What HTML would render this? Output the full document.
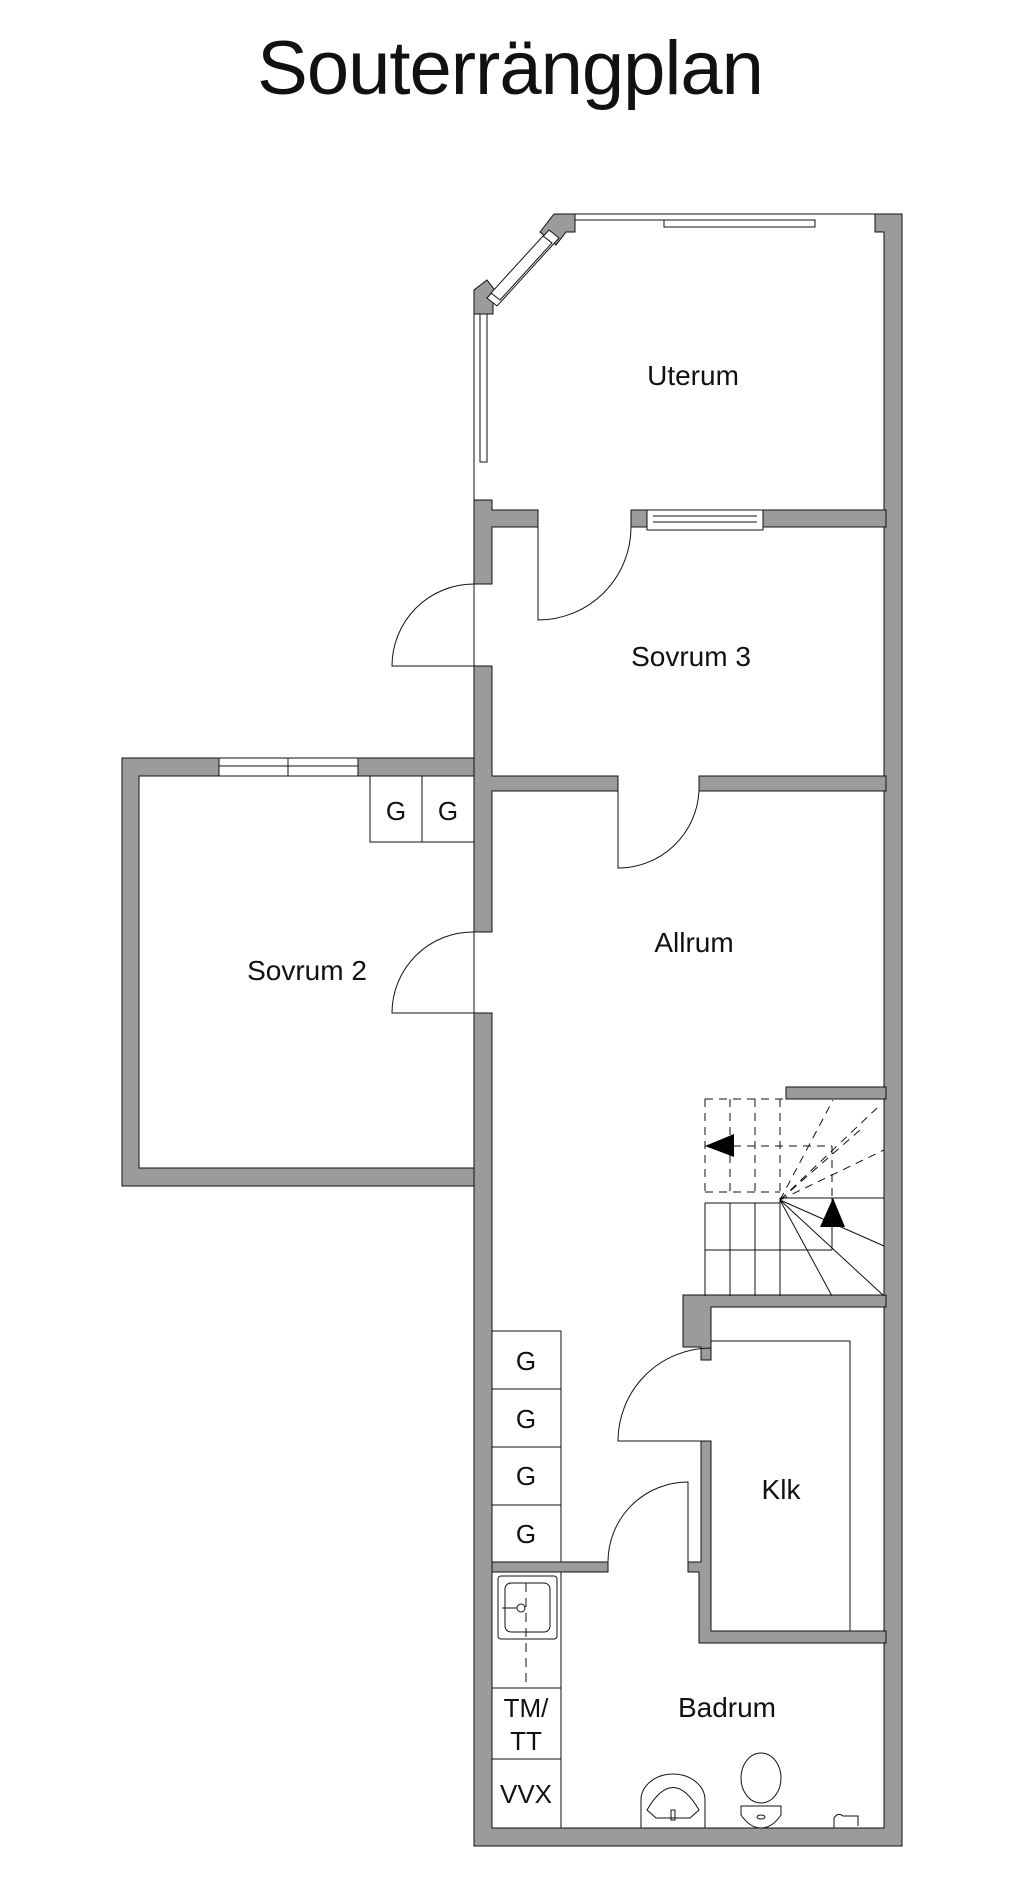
<!DOCTYPE html>
<html><head><meta charset="utf-8"><style>
html,body{margin:0;padding:0;background:#fff;}
svg{display:block}
text{font-family:"Liberation Sans",sans-serif;fill:#111}
</style></head><body>
<svg width="1024" height="1886" viewBox="0 0 1024 1886" xmlns="http://www.w3.org/2000/svg">
<text x="510" y="94" font-size="76" text-anchor="middle" letter-spacing="-1">Souterrängplan</text>

<g fill="#9b9b9b" stroke="#111" stroke-width="1">
<polygon points="875,214 902,214 902,1846 474,1846 474,1013 492,1013 492,1828 884,1828 884,232 875,232"/>
<polygon points="474,500 492,500 492,510 538,510 538,527 492,527 492,584 474,584"/>
<polygon points="474,666 492,666 492,776 618,776 618,791 492,791 492,932 474,932 474,776 474,776"/>
<polygon points="631,510 886,510 886,527 631,527"/>
<polygon points="699,776 886,776 886,791 699,791"/>
<polygon points="122,758 474,758 474,776 139,776 139,1168 474,1168 474,1186 122,1186"/>
<polygon points="554,214 575,214 575,232 566,232 556,245 540,232"/>
<polygon points="474,314 474,290 487,280 500,297 493,304 493,314"/>
<polygon points="786,1087 886,1087 886,1099 786,1099"/>
<polygon points="683,1295 886,1295 886,1307 711,1307 711,1360 701,1360 701,1347 683,1347"/>
<polygon points="701,1441 711,1441 711,1631 886,1631 886,1643 699,1643 699,1572 688,1572 688,1562 701,1562"/>
<polygon points="492,1562 608,1562 608,1572 492,1572"/>
</g>

<g fill="#fff" stroke="#111" stroke-width="1">
<rect x="219" y="758" width="139" height="18"/>
<line x1="219" y1="766" x2="358" y2="766"/><line x1="288" y1="758" x2="288" y2="776"/>
<rect x="647" y="510" width="116" height="20"/>
<line x1="653" y1="516" x2="757" y2="516"/><line x1="653" y1="522" x2="757" y2="522"/>
<rect x="664" y="220" width="151" height="7"/>
<polygon points="549,230 559,238 497,306 487,298"/>
<polygon points="543,236 552,243 500,300 491,293"/>
<rect x="480" y="314" width="7" height="148"/>
</g>
<g stroke="#111" stroke-width="1" fill="none">
<line x1="575" y1="214" x2="875" y2="214"/>
<line x1="575" y1="220" x2="724" y2="220"/>
<line x1="474" y1="314" x2="474" y2="500"/>
<line x1="474" y1="584" x2="474" y2="666"/>
<line x1="474" y1="932" x2="474" y2="1013"/>
<path d="M538 527 V620 A93 93 0 0 0 631 527"/>
<path d="M474 666 H392 A82 82 0 0 1 474 584"/>
<path d="M474 1013 H392 A81 81 0 0 1 474 932"/>
<path d="M618 791 V868 A81 81 0 0 0 699 791"/>
<path d="M711 1441 H618 A93 93 0 0 1 711 1348"/>
<path d="M688 1562 V1482 A80 80 0 0 0 608 1562"/>
<rect x="370" y="776" width="104" height="66"/>
<line x1="422" y1="776" x2="422" y2="842"/>
<rect x="492" y="1331" width="69" height="231"/>
<line x1="492" y1="1389" x2="561" y2="1389"/>
<line x1="492" y1="1447" x2="561" y2="1447"/>
<line x1="492" y1="1505" x2="561" y2="1505"/>
<rect x="492" y="1572" width="69" height="256"/>
<line x1="492" y1="1688" x2="561" y2="1688"/>
<line x1="492" y1="1759" x2="561" y2="1759"/>
<rect x="498" y="1576" width="59" height="63" rx="3"/>
<rect x="505" y="1583" width="45" height="49" rx="6"/>
<line x1="526" y1="1583" x2="526" y2="1688" stroke-dasharray="9,6"/>
<circle cx="521" cy="1608" r="4"/>
<line x1="502" y1="1608" x2="517" y2="1608"/>
<path d="M711 1341 H850 V1631"/>
<g stroke-dasharray="8,6">
<path d="M705 1099 H786 M705 1146 H832 M705 1192 H780 M705 1099 V1192 M730 1099 V1192 M755 1099 V1192 M780 1099 V1192 M832 1146 V1198"/>
<path d="M780 1200 L884 1150 M780 1200 L877 1108 M780 1200 L833 1100 M780 1200 L860 1130"/>
</g>
<path d="M705 1203 H780 M705 1250 H832 M705 1203 V1296 M730 1203 V1296 M755 1203 V1296 M780 1198 V1296 M780 1198 H884 M832 1198 V1250"/>
<path d="M780 1200 L884 1246 M780 1200 L884 1296 M780 1200 L832 1296"/>
<path d="M641 1828 V1800 A32 26 0 0 1 705 1800 V1828"/>
<path d="M647 1810 Q673 1765 699 1810 L690 1818 H656 Z"/>
<rect x="671" y="1810" width="4" height="10"/>
<ellipse cx="761" cy="1778" rx="20" ry="25"/>
<path d="M741 1806 H781 V1815 Q772 1828 761 1828 Q750 1828 741 1815 Z"/>
<ellipse cx="761" cy="1817" rx="4" ry="2"/>
<path d="M834 1828 V1818 Q838 1812 843 1816 H858 V1826"/>
</g>
<polygon points="705,1146 734,1134 734,1157" fill="#000"/>
<polygon points="833,1198 820,1227 845,1227" fill="#000"/>

<g font-size="28" text-anchor="middle">
<text x="693" y="385">Uterum</text>
<text x="691" y="666">Sovrum 3</text>
<text x="694" y="952">Allrum</text>
<text x="307" y="980">Sovrum 2</text>
<text x="781" y="1499">Klk</text>
<text x="727" y="1717">Badrum</text>
<text x="396" y="820" font-size="26">G</text>
<text x="448" y="820" font-size="26">G</text>
<text x="526" y="1370" font-size="26">G</text>
<text x="526" y="1428" font-size="26">G</text>
<text x="526" y="1485" font-size="26">G</text>
<text x="526" y="1543" font-size="26">G</text>
<text x="526" y="1717" font-size="26">TM/</text>
<text x="526" y="1750" font-size="26">TT</text>
<text x="526" y="1803" font-size="26">VVX</text>
</g>
</svg>
</body></html>
